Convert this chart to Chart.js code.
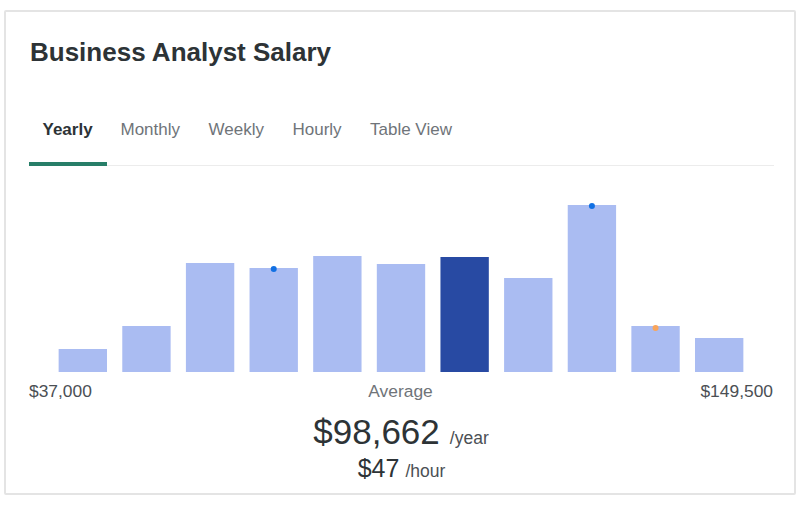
<!DOCTYPE html>
<html>
<head>
<meta charset="utf-8">
<script src="https://cdn.jsdelivr.net/npm/chart.js@4"></script>
<style>
  html, body { margin: 0; padding: 0; background: #fff; }
  body { width: 800px; height: 506px; position: relative; overflow: hidden;
         font-family: "Liberation Sans", Arial, sans-serif; }
  .card { position: absolute; left: 4px; top: 10px; width: 788px; height: 481px;
          border: 2px solid #e4e4e4; border-radius: 2px; }
  .t { position: absolute; line-height: 1; white-space: nowrap; }
  #title { left: 30px; top: 39px; font-size: 26px; font-weight: bold; color: #2d3336; }
  .tab { top: 120.6px; font-size: 17px; color: #6f7479; }
  .tab.on { font-weight: bold; color: #2d3336; }
  #under { position: absolute; left: 29px; top: 162px; width: 78px; height: 4px; background: #277e68; }
  #rule { position: absolute; left: 29px; top: 165px; width: 745px; height: 1px; background: #ececec; }
  #chartBox { position: absolute; left: 51px; top: 192px; width: 700px; height: 180px; }
  .rng { top: 382.6px; font-size: 17.4px; color: #4b4f54; }
  #avgLbl { top: 382.6px; left: 0; width: 801px; text-align: center; font-size: 17.4px; color: #6f7479; }
  #big { left: 0; width: 802px; top: 414.4px; text-align: center; font-size: 35px; color: #2d3336; }
  #small { left: 0; width: 803px; top: 455.8px; text-align: center; font-size: 25px; color: #2d3336; }
  .unit { font-size: 17.5px; color: #4b4f54; }
</style>
</head>
<body>
<div class="card"></div>
<div class="t" id="title">Business Analyst Salary</div>
<div class="t tab on" style="left:42.5px">Yearly</div>
<div class="t tab" style="left:120.5px">Monthly</div>
<div class="t tab" style="left:208.5px">Weekly</div>
<div class="t tab" style="left:292.5px">Hourly</div>
<div class="t tab" style="left:370px">Table View</div>
<div id="rule"></div>
<div id="under"></div>
<div id="chartBox"><canvas id="c"></canvas></div>
<div class="t rng" id="minLbl" style="left:29px"></div>
<div class="t rng" id="maxLbl" style="right:27px"></div>
<div class="t" id="avgLbl">Average</div>
<div class="t" id="big"><span id="avgYear"></span><span class="unit" style="margin-left:10px">/year</span></div>
<div class="t" id="small"><span id="avgHour"></span><span class="unit" style="margin-left:6px">/hour</span></div>

<script>
// salary distribution buckets (relative heights)
const buckets = ['1','2','3','4','5','6','7','8','9','10','11'];
const counts = [23, 46, 109, 104, 116, 108, 115, 94, 167, 46, 34];
const averageIndex = 6;
const blueMarks = [null, null, null, 103, null, null, null, null, 166, null, null];
const orangeMarks = [null, null, null, null, null, null, null, null, null, 44, null];
const rangeLabels = ['$37,000', '$149,500'];
const averageYear = '$98,662';
const averageHour = '$47';

document.getElementById('minLbl').textContent = rangeLabels[0];
document.getElementById('maxLbl').textContent = rangeLabels[1];
document.getElementById('avgYear').textContent = averageYear;
document.getElementById('avgHour').textContent = averageHour;

const barColors = counts.map((v, i) => i === averageIndex ? '#284aa3' : '#aabcf2');

const ctx = document.getElementById('c').getContext('2d');
new Chart(ctx, {
  type: 'bar',
  data: {
    labels: buckets,
    datasets: [
      {
        type: 'line',
        data: blueMarks,
        showLine: false,
        pointRadius: 3,
        pointBackgroundColor: '#1170e3',
        pointBorderWidth: 0,
        clip: false,
        order: 0
      },
      {
        type: 'line',
        data: orangeMarks,
        showLine: false,
        pointRadius: 3,
        pointBackgroundColor: '#f9a55b',
        pointBorderWidth: 0,
        clip: false,
        order: 0
      },
      {
        data: counts,
        backgroundColor: barColors,
        categoryPercentage: 1,
        barPercentage: 0.76,
        order: 1
      }
    ]
  },
  options: {
    responsive: true,
    maintainAspectRatio: false,
    animation: false,
    layout: { padding: 0, autoPadding: false },
    plugins: {
      legend: { display: false },
      tooltip: { enabled: false }
    },
    scales: {
      x: { display: false },
      y: { display: false, min: 0, max: 180 }
    }
  }
});
</script>
</body>
</html>
